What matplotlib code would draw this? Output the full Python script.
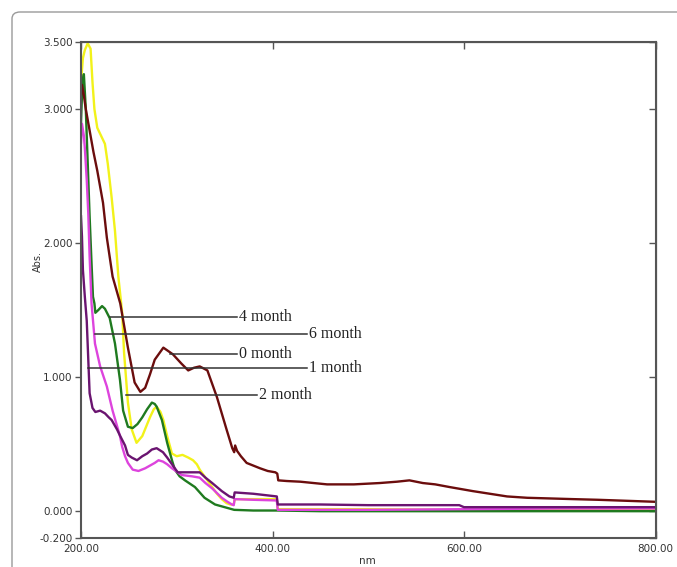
import matplotlib
matplotlib.use('Agg')
import matplotlib.pyplot as plt
from matplotlib.patches import FancyBboxPatch

# spectra (wavelength nm, absorbance)
wl_0 = [200, 201, 203, 205, 209, 213, 217, 223, 227, 233, 241, 249, 256, 262, 267, 272, 277, 286, 296, 305,
        312, 318, 324, 332, 342, 352, 358, 360, 361, 363, 367, 373, 380, 387, 395, 403, 405, 406, 415, 429,
        457, 485, 512, 530, 543, 557, 570, 585, 597, 609, 627, 645, 666, 690, 714, 740, 760, 780, 800]
abs_0 = [3.10, 3.18, 3.10, 3.00, 2.84, 2.68, 2.54, 2.30, 2.04, 1.75, 1.55, 1.22, 0.96, 0.89, 0.92, 1.02, 1.13, 1.22, 1.17, 1.10,
         1.05, 1.07, 1.08, 1.05, 0.85, 0.61, 0.47, 0.44, 0.49, 0.45, 0.41, 0.36, 0.34, 0.32, 0.30, 0.29, 0.28, 0.23, 0.225, 0.22,
         0.20, 0.20, 0.21, 0.22, 0.23, 0.21, 0.20, 0.18, 0.165, 0.15, 0.13, 0.11, 0.10, 0.095, 0.09, 0.085, 0.08, 0.075, 0.07]

wl_1 = [200, 201, 202, 204, 206, 207.5, 209, 212, 215, 220, 225, 229, 232, 237.6, 241, 246, 249, 253, 258.5, 264,
        269, 274, 279, 285.6, 290, 295, 301, 308, 313.8, 324, 330, 337, 347, 355, 359.5, 360.5, 380, 404.5, 405.5,
        450, 500, 550, 595, 600, 700, 800]
abs_1 = [2.20, 2.05, 1.80, 1.60, 1.42, 1.15, 0.88, 0.77, 0.74, 0.75, 0.73, 0.70, 0.68, 0.61, 0.56, 0.49, 0.42, 0.40, 0.38, 0.41,
         0.43, 0.46, 0.47, 0.44, 0.40, 0.35, 0.29, 0.29, 0.29, 0.29, 0.25, 0.21, 0.15, 0.11, 0.10, 0.14, 0.13, 0.11, 0.05,
         0.05, 0.045, 0.045, 0.045, 0.03, 0.03, 0.03]

wl_2 = [200, 202, 204, 207, 210, 212, 214, 217, 221, 225, 228, 232, 235.5, 239, 243, 245, 249, 253, 258, 264,
        268, 272, 276, 279, 283, 286, 290, 295, 300, 306, 312, 317, 321, 324, 330, 337, 342, 347, 352, 356,
        359.5, 360.5, 380, 404.5, 405.5, 450, 500, 600, 700, 800]
abs_2 = [3.20, 3.38, 3.44, 3.49, 3.45, 3.20, 3.00, 2.86, 2.80, 2.74, 2.59, 2.34, 2.09, 1.75, 1.48, 1.18, 0.81, 0.61, 0.51, 0.56,
         0.63, 0.70, 0.76, 0.78, 0.74, 0.68, 0.56, 0.43, 0.41, 0.42, 0.40, 0.38, 0.35, 0.31, 0.25, 0.18, 0.13, 0.09, 0.06, 0.05,
         0.05, 0.09, 0.09, 0.09, 0.015, 0.015, 0.015, 0.01, 0.01, 0.01]

wl_4 = [200, 201, 202, 203, 205, 207, 209, 211, 212.5, 214, 215, 218, 222, 225, 230, 235.5, 240.7, 244, 249, 254,
        259, 264, 269, 274, 277, 279, 284.5, 290, 295, 298, 303, 308.6, 319, 329, 340, 350, 360, 380, 405,
        450, 500, 600, 700, 800]
abs_4 = [2.90, 3.10, 3.22, 3.26, 3.00, 2.60, 2.20, 1.85, 1.60, 1.55, 1.48, 1.50, 1.53, 1.51, 1.44, 1.25, 0.98, 0.75, 0.63, 0.62,
         0.65, 0.70, 0.76, 0.81, 0.80, 0.78, 0.68, 0.51, 0.38, 0.31, 0.26, 0.23, 0.18, 0.10, 0.05, 0.03, 0.01, 0.005, 0.005,
         0.0, 0.0, 0.0, 0.0, 0.0]

wl_6 = [200, 201, 203, 204, 206, 207.6, 209, 211, 214.6, 220, 227, 233, 240.7, 243, 246, 249, 254, 260, 267, 272,
        277, 281, 285.6, 290, 295, 305, 316, 324, 330, 337, 347, 353, 357.6, 359.5, 360.5, 380, 404.5, 405.5,
        450, 500, 600, 700, 800]
abs_6 = [2.75, 2.89, 2.80, 2.71, 2.47, 2.22, 1.90, 1.55, 1.25, 1.08, 0.93, 0.75, 0.56, 0.48, 0.41, 0.36, 0.31, 0.30, 0.32, 0.34,
         0.36, 0.38, 0.37, 0.35, 0.32, 0.27, 0.26, 0.25, 0.21, 0.17, 0.10, 0.07, 0.05, 0.045, 0.09, 0.085, 0.08, 0.01,
         0.01, 0.01, 0.015, 0.02, 0.02]

# label lines: y level, start x, end x (data units)
labels = ['4 month', '6 month', '0 month', '1 month', '2 month']
label_y = [1.452, 1.325, 1.169, 1.065, 0.864]
label_x0 = [230, 214.6, 293, 207.3, 247]
label_x1 = [363, 436, 363, 436, 384]

yticks = [3.5, 3.0, 2.0, 1.0, 0.0, -0.2]
ytick_labels = ['3.500', '3.000', '2.000', '1.000', '0.000', '-0.200']
xticks = [200, 400, 600, 800]
xtick_labels = ['200.00', '400.00', '600.00', '800.00']

fig = plt.figure(figsize=(6.77, 5.67), dpi=100)

card = FancyBboxPatch((12 / 677, -0.2), 1.2, 1 - 12 / 567 + 0.2,
                      boxstyle='round,pad=0,rounding_size=0.012',
                      transform=fig.transFigure, facecolor='white', edgecolor='#9a9a9a', linewidth=1.0,
                      zorder=-5)
fig.patches.append(card)

ax = fig.add_axes([81 / 677, 1 - 538 / 567, (655.5 - 81) / 677, (538 - 42) / 567])
ax.set_facecolor('none')

lw = 1.7
ax.plot(wl_2, abs_2, color='#f2f21a', lw=lw)
ax.plot(wl_4, abs_4, color='#1f7a1f', lw=lw)
ax.plot(wl_6, abs_6, color='#dd44dd', lw=lw)
ax.plot(wl_1, abs_1, color='#6a1470', lw=lw)
ax.plot(wl_0, abs_0, color='#6b0d0d', lw=lw)

for txt, y, x0, x1 in zip(labels, label_y, label_x0, label_x1):
    ax.plot([x0, x1], [y, y], color='#333333', lw=1.1)
    ax.text(x1 + 2, y, txt, family='Liberation Serif', fontsize=11.5, color='#222222',
            va='center', ha='left')

ax.set_xlim(200, 800)
ax.set_ylim(-0.2, 3.5)
ax.set_yticks(yticks)
ax.set_yticklabels(ytick_labels)
ax.set_xticks(xticks)
ax.set_xticklabels(xtick_labels)
ax.tick_params(axis='y', direction='out', length=4, width=1, colors='#555555', labelsize=7.5,
               labelcolor='#333333', pad=2)
ax.tick_params(axis='x', direction='in', length=5, width=1, colors='#555555', labelsize=7.5,
               labelcolor='#333333', pad=4)
for s in ax.spines.values():
    s.set_color('#555555')
    s.set_linewidth(1.5)

sec_y = ax.secondary_yaxis('right')
sec_y.set_yticks(yticks)
sec_y.tick_params(direction='in', length=5, width=1, colors='#555555', labelright=False)
sec_x = ax.secondary_xaxis('top')
sec_x.set_xticks(xticks)
sec_x.tick_params(direction='in', length=5, width=1, colors='#555555', labeltop=False)

fig.text(38 / 677, 1 - 262 / 567, 'Abs.', rotation=90, fontsize=7, color='#333333',
         ha='center', va='center')
fig.text(367 / 677, 1 - 566 / 567, 'nm', fontsize=7.5, color='#333333', ha='center', va='bottom')

fig.savefig('out.png', dpi=100)
